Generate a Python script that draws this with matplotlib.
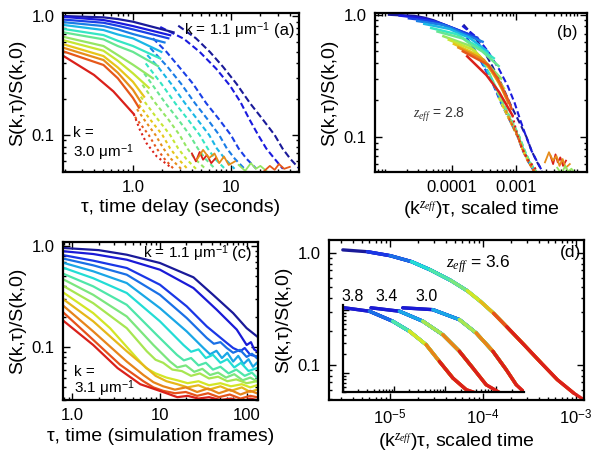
import numpy as np
import matplotlib
matplotlib.use("Agg")
import matplotlib.pyplot as plt
from matplotlib.ticker import FixedLocator, FixedFormatter, LogLocator, NullFormatter

plt.rcParams["font.family"] = ["Liberation Sans", "DejaVu Sans"]
plt.rcParams["mathtext.fontset"] = "custom"
plt.rcParams["mathtext.rm"] = "Liberation Sans"
plt.rcParams["mathtext.it"] = "Liberation Serif:italic"
plt.rcParams["mathtext.bf"] = "Liberation Sans:bold"

# ── (a) experiment: k values, solid (short lag) and dashed (long lag) curves ──
A_K = [1.10, 1.26, 1.42, 1.58, 1.73, 1.89, 2.05, 2.21, 2.37, 2.53, 2.68, 2.84, 3.00]

A_SOLID_TAU = [
    [0.2, 0.5, 0.7, 1.0, 2.6],
    [0.2, 0.5, 0.7, 1.0, 2.4],
    [0.2, 0.5, 0.7, 1.0, 2.3],
    [0.2, 0.5, 0.7, 1.0, 2.1],
    [0.2, 0.5, 0.7, 1.0, 1.95],
    [0.2, 0.5, 0.7, 1.0, 1.9],
    [0.2, 0.5, 0.7, 1.0, 1.8],
    [0.2, 0.5, 0.7, 1.0, 1.6],
    [0.2, 0.5, 0.7, 1.0, 1.45],
    [0.2, 0.5, 0.7, 1.0, 1.3],
    [0.2, 0.5, 0.7, 1.0, 1.2],
    [0.2, 0.5, 0.7, 1.0, 1.15],
    [0.2, 0.4, 0.63, 1.02],
]
A_SOLID_S = [
    [1.0, 0.975, 0.944, 0.896, 0.73],
    [0.983, 0.926, 0.878, 0.824, 0.69],
    [0.933, 0.878, 0.829, 0.773, 0.65],
    [0.887, 0.824, 0.773, 0.706, 0.60],
    [0.840, 0.763, 0.70, 0.65, 0.50],
    [0.777, 0.692, 0.62, 0.56, 0.44],
    [0.727, 0.637, 0.56, 0.50, 0.38],
    [0.666, 0.56, 0.47, 0.39, 0.30],
    [0.623, 0.511, 0.421, 0.33, 0.25],
    [0.576, 0.461, 0.37, 0.28, 0.21],
    [0.538, 0.427, 0.334, 0.24, 0.19],
    [0.501, 0.388, 0.30, 0.205, 0.17],
    [0.456, 0.32, 0.233, 0.15],
]
A_DASH_TAU = [
    [2.9, 4.4, 6.1, 8.3, 11.4, 15.7, 21.2, 28, 33.7, 40.5, 49],
    [1.9, 3.3, 4.8, 7.1, 9.8, 12.5, 15.5, 19, 23, 28, 34],
    [1.6, 2.2, 2.95, 4.1, 5.6, 7.6, 10, 12, 14.5, 18.2],
    [1.5, 2.25, 3.1, 4.3, 5.8, 7.6, 9.1, 11, 13.8],
    [1.4, 1.8, 2.45, 3.4, 4.55, 6.0, 7.2, 8.7, 10.9],
    [1.35, 1.95, 2.7, 3.65, 4.8, 5.8, 6.9, 8.7],
    [1.3, 1.55, 2.15, 2.9, 3.8, 4.6, 5.5, 6.9],
    [1.25, 1.7, 2.3, 3.0, 3.6, 4.3, 5.5],
    [1.2, 1.35, 1.8, 2.4, 2.9, 3.5, 4.4],
    [1.15, 1.5, 2.0, 2.4, 2.9, 3.6],
    [1.1, 1.3, 1.7, 2.05, 2.45, 3.1],
    [1.05, 1.45, 1.75, 2.1, 2.6],
    [1.02, 1.18, 1.38, 1.75, 2.4],
]
A_DASH_S = [
    [0.83, 0.65, 0.50, 0.375, 0.27, 0.185, 0.135, 0.10, 0.077, 0.063, 0.053],
    [0.81, 0.645, 0.50, 0.36, 0.26, 0.19, 0.135, 0.10, 0.077, 0.063, 0.052],
    [0.65, 0.50, 0.375, 0.27, 0.185, 0.135, 0.10, 0.077, 0.063, 0.052],
    [0.54, 0.375, 0.27, 0.185, 0.135, 0.10, 0.077, 0.063, 0.052],
    [0.47, 0.375, 0.27, 0.185, 0.135, 0.10, 0.077, 0.063, 0.052],
    [0.40, 0.27, 0.185, 0.135, 0.10, 0.077, 0.063, 0.052],
    [0.33, 0.27, 0.185, 0.135, 0.10, 0.077, 0.063, 0.052],
    [0.265, 0.185, 0.135, 0.10, 0.077, 0.063, 0.052],
    [0.21, 0.185, 0.135, 0.10, 0.077, 0.063, 0.052],
    [0.18, 0.135, 0.10, 0.077, 0.063, 0.052],
    [0.165, 0.135, 0.10, 0.077, 0.063, 0.052],
    [0.142, 0.10, 0.077, 0.063, 0.052],
    [0.15, 0.11, 0.085, 0.066, 0.054],
]
# noisy floor segments (solid) of a few high-k curves
A_TAIL_IDX = [12, 10, 7, 11]
A_TAIL_TAU = [
    [4.0, 4.4, 4.8, 5.2, 5.7, 6.3, 7.0],
    [4.5, 5.2, 6.0, 6.8, 7.6, 8.5, 9.5, 11],
    [12, 14, 16, 18, 20, 23],
    [22, 25, 28, 31, 35, 40],
]
A_TAIL_S = [
    [0.070, 0.060, 0.072, 0.062, 0.068, 0.058, 0.064],
    [0.062, 0.075, 0.064, 0.070, 0.058, 0.066, 0.056, 0.060],
    [0.056, 0.050, 0.058, 0.052, 0.055, 0.050],
    [0.050, 0.055, 0.051, 0.057, 0.052, 0.054],
]

# ── (b) scaling of (a): x = C * k^z * tau ──
B_ZEFF = 2.8
B_SCALE = 4.0e-5

# ── (c) simulation curves, k = 1.1 ... 3.1 ──
C_TAU = [
    [0.8, 2.0, 4.2, 10.1, 24.5, 41, 70, 100, 115, 131],
    [0.8, 1.73, 4.2, 10.1, 24.5, 45.4, 77, 100, 112, 122, 131],
    [0.8, 1.73, 4.2, 10.1, 20.5, 34.9, 59.2, 70, 84.2, 95, 110, 131],
    [0.8, 1.73, 4.2, 10.1, 20.5, 34.9, 42, 50, 59.2, 70, 84, 100, 115, 131],
    [0.8, 1.73, 4.2, 10.1, 20.5, 31.9, 38, 45, 52, 60, 70, 80, 92, 105, 118, 131],
    [0.8, 1.73, 4.2, 10.1, 18.8, 23, 28, 34, 41, 50, 60, 72, 86, 105, 131],
    [0.8, 1.73, 4.2, 9.28, 15.8, 19, 23, 28, 34, 41, 50, 62, 76, 95, 115, 131],
    [0.8, 1.73, 4.2, 8.49, 13.2, 16, 20, 25, 31, 38, 47, 58, 72, 90, 110, 131],
    [0.8, 1.73, 4.2, 7.13, 9, 11, 14, 18, 23, 29, 37, 47, 60, 76, 100, 131],
    [0.8, 1.73, 2.7, 5.47, 7, 9, 12, 16, 21, 28, 37, 50, 66, 88, 110, 131],
    [0.8, 1.73, 4.2, 7.13, 9, 12, 16, 21, 28, 37, 50, 66, 88, 110, 131],
    [0.8, 1.73, 4.2, 6.52, 8.5, 11, 15, 20, 27, 36, 48, 64, 85, 110, 131],
    [0.8, 1.73, 3.52, 6.52, 8.5, 11, 15, 20, 27, 36, 48, 64, 85, 110, 131],
    [0.8, 1.73, 3.3, 6.0, 10, 12, 16, 21, 28, 37, 50, 66, 88, 110, 131],
]
C_S = [
    [0.955, 0.91, 0.82, 0.679, 0.49, 0.33, 0.217, 0.154, 0.14, 0.128],
    [0.886, 0.833, 0.732, 0.583, 0.384, 0.234, 0.149, 0.105, 0.112, 0.095, 0.091],
    [0.809, 0.716, 0.606, 0.414, 0.253, 0.160, 0.110, 0.098, 0.091, 0.098, 0.084, 0.081],
    [0.748, 0.644, 0.520, 0.329, 0.194, 0.123, 0.108, 0.112, 0.098, 0.088, 0.094, 0.080, 0.086, 0.078],
    [0.679, 0.562, 0.430, 0.243, 0.143, 0.098, 0.085, 0.092, 0.078, 0.088, 0.072, 0.082, 0.068, 0.076, 0.064, 0.070],
    [0.606, 0.48, 0.343, 0.180, 0.105, 0.090, 0.095, 0.078, 0.084, 0.070, 0.076, 0.063, 0.070, 0.058, 0.062],
    [0.528, 0.399, 0.262, 0.132, 0.084, 0.074, 0.078, 0.066, 0.070, 0.060, 0.064, 0.055, 0.060, 0.052, 0.056, 0.050],
    [0.464, 0.329, 0.201, 0.105, 0.072, 0.063, 0.066, 0.057, 0.061, 0.053, 0.056, 0.050, 0.054, 0.047, 0.050, 0.046],
    [0.399, 0.272, 0.154, 0.091, 0.075, 0.070, 0.060, 0.058, 0.052, 0.055, 0.049, 0.051, 0.046, 0.048, 0.044, 0.046],
    [0.343, 0.217, 0.154, 0.078, 0.062, 0.055, 0.050, 0.047, 0.044, 0.046, 0.042, 0.044, 0.041, 0.043, 0.040, 0.042],
    [0.294, 0.180, 0.091, 0.062, 0.052, 0.046, 0.043, 0.040, 0.042, 0.038, 0.041, 0.037, 0.040, 0.036, 0.038],
    [0.253, 0.143, 0.072, 0.053, 0.045, 0.041, 0.038, 0.040, 0.036, 0.039, 0.035, 0.038, 0.034, 0.037, 0.035],
    [0.217, 0.118, 0.067, 0.046, 0.040, 0.037, 0.035, 0.036, 0.033, 0.035, 0.032, 0.034, 0.031, 0.033, 0.032],
    [0.180, 0.105, 0.062, 0.043, 0.037, 0.035, 0.032, 0.033, 0.031, 0.032, 0.030, 0.031, 0.029, 0.031, 0.030],
]

# ── (d) collapsed master curves: z_eff = 3.6 (main) and 3.8 / 3.4 / 3.0 (inset) ──
D_MAIN_X = [3.1e-6, 5.7e-6, 1.0e-5, 1.7e-5, 2.7e-5, 4.5e-5, 6.8e-5, 9.4e-5,
            1.3e-4, 1.8e-4, 2.8e-4, 4.2e-4, 6.3e-4, 9.5e-4, 1.17e-3]
D_MAIN_S = [1.07, 1.03, 0.95, 0.84, 0.71, 0.57, 0.46, 0.37,
            0.29, 0.22, 0.15, 0.105, 0.074, 0.056, 0.050]
D_INSET_LABELS = ["3.8", "3.4", "3.0"]
D_INSET_X = [
    [1.06e-6, 3.28e-6, 9.4e-6, 2.0e-5, 4.24e-5, 7.7e-5, 1.42e-4, 2.58e-4, 4.05e-4],
    [3.54e-6, 1.27e-5, 3.66e-5, 9.0e-5, 1.9e-4, 3.49e-4, 6.37e-4, 1.16e-3],
    [1.48e-5, 5.74e-5, 1.9e-4, 4.05e-4, 8.6e-4, 1.57e-3, 2.47e-3, 3.59e-3],
]
D_INSET_S = [
    [1.08, 0.954, 0.662, 0.459, 0.281, 0.153, 0.083, 0.0545, 0.048],
    [1.08, 0.954, 0.662, 0.405, 0.221, 0.120, 0.065, 0.049],
    [1.08, 1.01, 0.702, 0.431, 0.221, 0.113, 0.065, 0.049],
]

YLABEL = "S(k,\u03c4)/S(k,0)"
LABEL_FS = 14
TICK_FS = 12
TEXT_FS = 11
PANEL_FS = 12


def jet_colors(n):
    """jet 色阶，略向灰色混合以接近原图的柔和色调。"""
    c = plt.get_cmap("jet")(np.linspace(0.03, 0.9, n))
    c[:, :3] = 0.8 * c[:, :3] + 0.2 * 0.5
    return c


def style_log_axes(ax, xticks, xlabels, xlim, ylim):
    ax.set_xscale("log")
    ax.set_yscale("log")
    ax.set_xlim(*xlim)
    ax.set_ylim(*ylim)
    ax.xaxis.set_major_locator(FixedLocator(xticks))
    ax.xaxis.set_major_formatter(FixedFormatter(xlabels))
    ax.yaxis.set_major_locator(FixedLocator([0.1, 1.0]))
    ax.yaxis.set_major_formatter(FixedFormatter(["0.1", "1.0"]))
    for axis in (ax.xaxis, ax.yaxis):
        axis.set_minor_locator(LogLocator(base=10, subs=np.arange(2, 10), numticks=30))
        axis.set_minor_formatter(NullFormatter())
    ax.tick_params(which="both", direction="in", top=True, right=True,
                   labelsize=TICK_FS, width=1.0, pad=6)
    ax.tick_params(which="major", length=5)
    ax.tick_params(which="minor", length=2.5)
    for sp in ax.spines.values():
        sp.set_linewidth(1.6)
    ax.set_ylabel(YLABEL, fontsize=LABEL_FS, labelpad=4)


def draw_collapse(ax, xs, ss, colors, span, lw):
    """每个颜色覆盖主曲线上的一段连续节点，低 k 在左上、高 k 在右下。"""
    n = len(xs)
    m = len(colors)
    for i, c in enumerate(colors):
        a = int(round(i * (n - 1 - span) / (m - 1)))
        ax.plot(xs[a:a + span + 1], ss[a:a + span + 1], color=c, lw=lw,
                solid_capstyle="round", solid_joinstyle="round")


def atext(ax, x, y, s, ha="left", fs=TEXT_FS, **kw):
    ax.text(x, y, s, transform=ax.transAxes, ha=ha, va="center", fontsize=fs, **kw)


fig = plt.figure(figsize=(6.0, 4.58), dpi=100)
ax_a = fig.add_axes([0.105, 0.6245, 0.393, 0.347])
ax_b = fig.add_axes([0.625, 0.6245, 0.3533, 0.347])
ax_c = fig.add_axes([0.105, 0.1266, 0.325, 0.345])
ax_d = fig.add_axes([0.5483, 0.1266, 0.425, 0.3493])

# ── (a) ──
cols_a = jet_colors(len(A_K))
n_a = len(A_K)
for i in range(n_a):
    on = 3.2 - 2.2 * i / (n_a - 1)
    ax_a.plot(A_DASH_TAU[i], A_DASH_S[i], color=cols_a[i], lw=1.5,
              linestyle=(0, (on, 1.5)))
for j, i in enumerate(A_TAIL_IDX):
    ax_a.plot(A_TAIL_TAU[j], A_TAIL_S[j], color=cols_a[i], lw=1.3)
for i in range(n_a):
    ax_a.plot(A_SOLID_TAU[i], A_SOLID_S[i], color=cols_a[i], lw=1.6)
style_log_axes(ax_a, [1.0, 10.0], ["1.0", "10"], (0.193, 49.4), (0.0489, 1.06))
ax_a.set_xlabel("\u03c4, time delay (seconds)", fontsize=LABEL_FS, labelpad=3)
atext(ax_a, 0.877, 0.893, "k = 1.1 \u03bcm$^{-1}$", ha="right")
atext(ax_a, 0.983, 0.893, "(a)", ha="right", fs=PANEL_FS)
atext(ax_a, 0.042, 0.245, "k =")
atext(ax_a, 0.042, 0.12, "3.0 \u03bcm$^{-1}$")

# ── (b) ──
for i in range(n_a):
    f = B_SCALE * A_K[i] ** B_ZEFF
    on = 3.2 - 2.2 * i / (n_a - 1)
    ax_b.plot(np.array(A_DASH_TAU[i]) * f, A_DASH_S[i], color=cols_a[i], lw=1.5,
              linestyle=(0, (on, 1.5)))
for j, i in enumerate(A_TAIL_IDX):
    f = B_SCALE * A_K[i] ** B_ZEFF
    ax_b.plot(np.array(A_TAIL_TAU[j]) * f, A_TAIL_S[j], color=cols_a[i], lw=1.3)
for i in range(n_a):
    f = B_SCALE * A_K[i] ** B_ZEFF
    ax_b.plot(np.array(A_SOLID_TAU[i]) * f, A_SOLID_S[i], color=cols_a[i], lw=1.8)
style_log_axes(ax_b, [1e-4, 1e-3], ["0.0001", "0.001"], (6.3e-6, 0.0129), (0.0517, 1.03))
ax_b.set_xlabel("(k$^{z_{eff}}$)\u03c4, scaled time", fontsize=LABEL_FS, labelpad=3)
atext(ax_b, 0.953, 0.88, "(b)", ha="right", fs=PANEL_FS)
atext(ax_b, 0.18, 0.358, "$z_{eff}$ = 2.8", fs=10, color="#333333")

# ── (c) ──
cols_c = jet_colors(len(C_TAU))
for i in range(len(C_TAU)):
    ax_c.plot(C_TAU[i], C_S[i], color=cols_c[i], lw=1.6)
style_log_axes(ax_c, [1.0, 10.0, 100.0], ["1.0", "10", "100"], (0.778, 135), (0.030, 1.095))
ax_c.set_xlabel("\u03c4, time (simulation frames)", fontsize=LABEL_FS, labelpad=3)
atext(ax_c, 0.41, 0.93, "k = 1.1 \u03bcm$^{-1}$")
atext(ax_c, 0.969, 0.93, "(c)", ha="right", fs=PANEL_FS)
atext(ax_c, 0.056, 0.18, "k =")
atext(ax_c, 0.056, 0.072, "3.1 \u03bcm$^{-1}$")

# ── (d) ──
cols_d = jet_colors(14)
draw_collapse(ax_d, D_MAIN_X, D_MAIN_S, cols_d, span=5, lw=2.4)
style_log_axes(ax_d, [1e-5, 1e-4, 1e-3], ["$10^{-5}$", "$10^{-4}$", "$10^{-3}$"],
               (2.2e-6, 1.22e-3), (0.0487, 1.31))
ax_d.set_xlabel("(k$^{z_{eff}}$)\u03c4, scaled time", fontsize=LABEL_FS, labelpad=3)
atext(ax_d, 0.988, 0.92, "(d)", ha="right", fs=PANEL_FS + 0.5)
atext(ax_d, 0.459, 0.846, "$z_{eff}$ = 3.6", fs=12.5)
for lab, xf in zip(D_INSET_LABELS, [0.047, 0.184, 0.341]):
    atext(ax_d, xf, 0.644, lab, fs=11.5)

ins = fig.add_axes([343 / 600, (458 - 392.3) / 458, 181.3 / 600, 87.6 / 458])
ins.patch.set_alpha(0)
for g in range(len(D_INSET_X)):
    draw_collapse(ins, D_INSET_X[g], D_INSET_S[g], cols_d, span=3, lw=2.4)
ins.set_xscale("log")
ins.set_yscale("log")
ins.set_xlim(1e-6, 3.55e-3)
ins.set_ylim(0.0494, 1.21)
ins.spines["top"].set_visible(False)
ins.spines["right"].set_visible(False)
for sp in ("left", "bottom"):
    ins.spines[sp].set_linewidth(1.6)
ins.xaxis.set_major_locator(LogLocator(base=10, numticks=10))
ins.yaxis.set_major_locator(FixedLocator([0.1, 1.0]))
for axis in (ins.xaxis, ins.yaxis):
    axis.set_minor_locator(LogLocator(base=10, subs=np.arange(2, 10), numticks=30))
    axis.set_minor_formatter(NullFormatter())
    axis.set_major_formatter(NullFormatter())
ins.tick_params(which="both", direction="in", width=1.0)
ins.tick_params(which="major", length=4)
ins.tick_params(which="minor", length=2)

fig.savefig("out.png", dpi=100)
